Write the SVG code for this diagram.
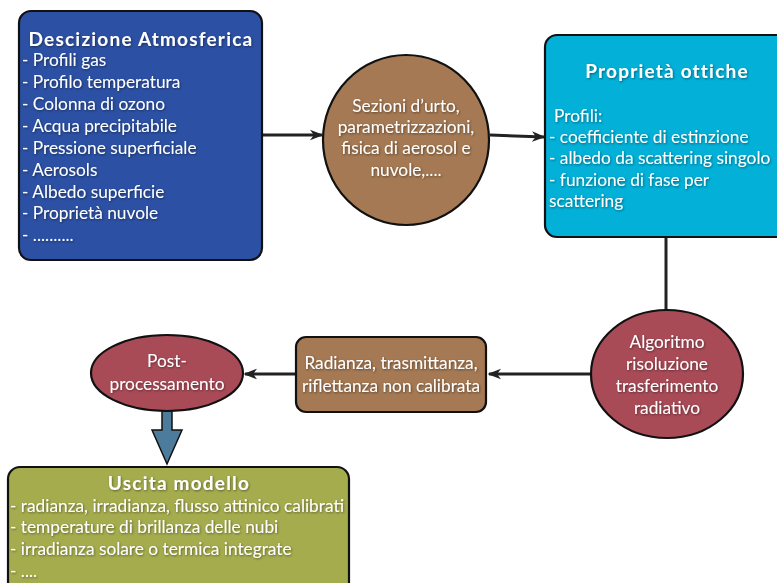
<svg xmlns="http://www.w3.org/2000/svg" width="777" height="583" viewBox="0 0 777 583">
<style>
.box{stroke:#111;stroke-width:2.2}
.t{font-family:Lato,"Liberation Sans",sans-serif;font-size:17.3px;fill:#fff;filter:url(#sh)}
.b{font-weight:bold;font-size:19px;letter-spacing:1.2px}
.c{text-anchor:middle}
.ln{stroke:#222;stroke-width:3;fill:none}
</style>
<defs>
<filter id="sh" x="-10%" y="-30%" width="120%" height="160%">
<feDropShadow dx="0.8" dy="1" stdDeviation="0.8" flood-color="#000" flood-opacity="0.45"/>
</filter>
<marker id="ah" viewBox="0 0 10 10" refX="9" refY="5" markerWidth="4.5" markerHeight="4.5" orient="auto" markerUnits="strokeWidth">
<path d="M0,1 L10,5 L0,9 L3,5 Z" fill="#222"/>
</marker>
</defs>
<rect width="777" height="583" fill="#fff"/>
<g id="connectors">
<line class="ln" x1="262" y1="135" x2="322" y2="135" marker-end="url(#ah)"/>
<line class="ln" x1="490" y1="135" x2="544" y2="137" marker-end="url(#ah)"/>
<line class="ln" x1="666" y1="237" x2="666" y2="311"/>
<line class="ln" x1="592" y1="374" x2="489" y2="374" marker-end="url(#ah)"/>
<line class="ln" x1="296" y1="374" x2="245" y2="374" marker-end="url(#ah)"/>
<path d="M162,411 L172,411 L172,430 L182,430 L167,464 L152,430 L162,430 Z" fill="#4d7b9b" stroke="#111" stroke-width="1.5"/>
</g>
<g id="atmos">
<rect class="box" x="19" y="11" width="243" height="249" rx="12" fill="#2c50a3"/>
<text class="t b c" x="141" y="46">Descizione Atmosferica</text>
<text class="t" x="22" y="66">- Profili gas</text>
<text class="t" x="22" y="88">- Profilo temperatura</text>
<text class="t" x="22" y="110">- Colonna di ozono</text>
<text class="t" x="22" y="132">- Acqua precipitabile</text>
<text class="t" x="22" y="154">- Pressione superficiale</text>
<text class="t" x="22" y="176">- Aerosols</text>
<text class="t" x="22" y="198">- Albedo superficie</text>
<text class="t" x="22" y="219">- Proprietà nuvole</text>
<text class="t" x="22" y="241">- ..........</text>
</g>
<g id="sezioni">
<ellipse class="box" cx="406" cy="140" rx="83" ry="85" fill="#a47953"/>
<text class="t c" x="406" y="112">Sezioni d’urto,</text>
<text class="t c" x="406" y="133">parametrizzazioni,</text>
<text class="t c" x="406" y="154">fisica di aerosol e</text>
<text class="t c" x="406" y="176">nuvole,....</text>
</g>
<g id="ottiche">
<rect class="box" x="545" y="35" width="250" height="202" rx="12" fill="#02b0d8"/>
<text class="t b c" x="667" y="78">Proprietà ottiche</text>
<text class="t" x="554" y="122">Profili:</text>
<text class="t" x="549" y="143">- coefficiente di estinzione</text>
<text class="t" x="549" y="164">- albedo da scattering singolo</text>
<text class="t" x="549" y="186">- funzione di fase per</text>
<text class="t" x="549" y="207">scattering</text>
</g>
<g id="algoritmo">
<ellipse class="box" cx="667" cy="374" rx="76" ry="64" fill="#a84b57"/>
<text class="t c" x="667" y="348">Algoritmo</text>
<text class="t c" x="667" y="370">risoluzione</text>
<text class="t c" x="667" y="392">trasferimento</text>
<text class="t c" x="667" y="414">radiativo</text>
</g>
<g id="radianza">
<rect class="box" x="296" y="337" width="190" height="75" rx="10" fill="#a47953"/>
<text class="t c" x="391" y="369">Radianza, trasmittanza,</text>
<text class="t c" x="391" y="392">riflettanza non calibrata</text>
</g>
<g id="post">
<ellipse class="box" cx="167" cy="373" rx="76" ry="38" fill="#a84b57"/>
<text class="t c" x="167" y="367">Post-</text>
<text class="t c" x="167" y="390">processamento</text>
</g>
<g id="uscita">
<rect class="box" x="8" y="467" width="341" height="130" rx="12" fill="#a5ac4e"/>
<text class="t b c" x="179" y="490">Uscita modello</text>
<text class="t" x="10" y="512">- radianza, irradianza, flusso attinico calibrati</text>
<text class="t" x="10" y="533">- temperature di brillanza delle nubi</text>
<text class="t" x="10" y="555">- irradianza solare o termica integrate</text>
<text class="t" x="10" y="577">- ....</text>
</g>
</svg>
